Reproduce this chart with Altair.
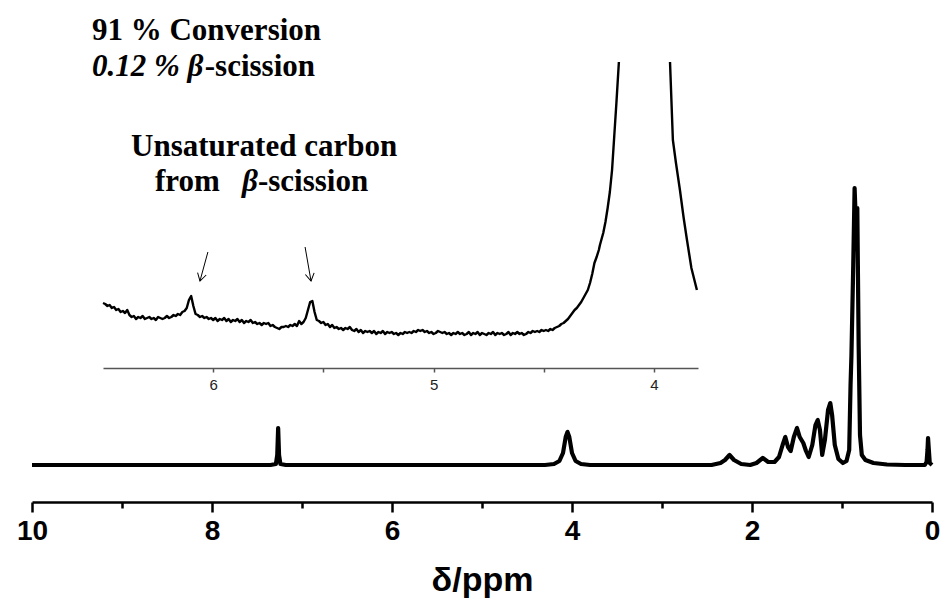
import altair as alt
import pandas as pd

# ---------------- main 1H NMR spectrum (ppm, intensity in px above baseline) ----------------
main_ppm = [10.0, 7.35, 7.29, 7.275, 7.265, 7.255, 7.24, 7.18,
            4.30, 4.20, 4.14, 4.10, 4.07, 4.05, 4.03, 4.00, 3.96, 3.90, 3.80,
            2.45, 2.35, 2.30, 2.25, 2.20, 2.12, 2.02, 1.95, 1.88, 1.82, 1.75, 1.70,
            1.66, 1.63, 1.60, 1.57, 1.535, 1.50, 1.47, 1.43, 1.40, 1.37, 1.33, 1.295,
            1.27, 1.245, 1.22, 1.19, 1.155, 1.13, 1.11, 1.08, 1.04, 0.99, 0.95, 0.92,
            0.905, 0.895, 0.875, 0.86, 0.845, 0.83, 0.815, 0.80, 0.78, 0.74, 0.65,
            0.50, 0.30, 0.08, 0.06, 0.05, 0.044, 0.035, 0.025, 0.0]
main_int = [0, 0, 1, 10, 37, 10, 1, 0,
            0, 1, 4, 12, 28, 33, 28, 12, 4, 1, 0,
            0, 2, 5, 10, 5, 1, 0, 2, 7, 3, 3, 8,
            20, 28, 18, 14, 28, 37, 28, 22, 14, 8, 20, 40,
            45, 35, 10, 25, 55, 62, 50, 20, 6, 2, 4, 15,
            80, 110, 200, 277, 240, 257, 120, 30, 10, 5, 2,
            0.5, 0, 0, 3, 15, 27, 15, 2, 0]

# ---------------- inset (expanded 6.5 - 3.8 ppm) ----------------
inset_ppm_a = [6.50, 6.49, 6.48, 6.47, 6.46, 6.45, 6.44, 6.43, 6.42, 6.41, 6.40, 6.39, 6.38, 6.37,
               6.36, 6.35, 6.34, 6.33, 6.32, 6.31, 6.30, 6.29, 6.28, 6.27, 6.26, 6.25, 6.24, 6.23,
               6.22, 6.21, 6.20, 6.19, 6.18, 6.17, 6.16, 6.15, 6.14, 6.13, 6.12, 6.11, 6.10, 6.09,
               6.08, 6.07, 6.06, 6.05, 6.04, 6.03, 6.02, 6.01, 6.00, 5.99, 5.98, 5.97, 5.96, 5.95,
               5.94, 5.93, 5.92, 5.91, 5.90, 5.89, 5.88, 5.87, 5.86, 5.85, 5.84, 5.83, 5.82, 5.81,
               5.80, 5.79, 5.78, 5.77, 5.76, 5.75, 5.74, 5.73, 5.72, 5.71, 5.70, 5.69, 5.68, 5.67,
               5.66, 5.65, 5.64, 5.63, 5.62, 5.61, 5.60, 5.59, 5.58, 5.57, 5.56, 5.55, 5.54, 5.53,
               5.52, 5.51, 5.50, 5.49, 5.48, 5.47, 5.46, 5.45, 5.44, 5.43, 5.42, 5.41, 5.40, 5.39,
               5.38, 5.37, 5.36, 5.35, 5.34, 5.33, 5.32, 5.31, 5.30, 5.29, 5.28, 5.27, 5.26, 5.25,
               5.24, 5.23, 5.22, 5.21, 5.20, 5.19, 5.18, 5.17, 5.16, 5.15, 5.14, 5.13, 5.12, 5.11,
               5.10, 5.09, 5.08, 5.07, 5.06, 5.05, 5.04, 5.03, 5.02, 5.01, 5.00, 4.99, 4.98, 4.97,
               4.96, 4.95, 4.94, 4.93, 4.92, 4.91, 4.90, 4.89, 4.88, 4.87, 4.86, 4.85, 4.84, 4.83,
               4.82, 4.81, 4.80, 4.79, 4.78, 4.77, 4.76, 4.75, 4.74, 4.73, 4.72, 4.71, 4.70, 4.69,
               4.68, 4.67, 4.66, 4.65, 4.64, 4.63, 4.62, 4.61, 4.60, 4.59, 4.58, 4.57, 4.56, 4.55,
               4.54, 4.53, 4.52, 4.51, 4.50, 4.49, 4.48, 4.47, 4.46, 4.45, 4.44, 4.43, 4.42, 4.41,
               4.40, 4.39, 4.38, 4.37, 4.36, 4.35, 4.34, 4.33, 4.32, 4.31, 4.30, 4.29, 4.28, 4.27,
               4.26, 4.25, 4.245, 4.23, 4.22, 4.21, 4.20, 4.19, 4.18, 4.17, 4.159]
inset_int_a = [65, 64, 62, 63, 60, 61, 58, 59, 56, 57, 55, 58, 53, 51,
               52, 49, 51, 50, 52, 49, 50, 51, 49, 50, 48, 51, 50, 49,
               50, 52, 50, 51, 53, 52, 54, 53, 56, 57, 60, 68, 72, 62,
               54, 53, 51, 52, 50, 51, 49, 50, 48, 50, 47, 49, 48, 50,
               47, 49, 46, 48, 47, 49, 46, 48, 45, 47, 46, 48, 45, 46,
               44, 45, 43, 45, 44, 45, 42, 43, 41, 40, 39, 41, 41, 42,
               41, 43, 42, 44, 42, 47, 44, 46, 50, 58, 66, 67, 56, 48,
               47, 45, 46, 43, 44, 41, 43, 40, 41, 39, 40, 38, 40, 39,
               41, 38, 37, 39, 36, 38, 35, 37, 36, 37, 35, 37, 34, 36,
               35, 37, 34, 36, 35, 36, 34, 35, 33, 35, 34, 36, 35, 36,
               35, 37, 36, 38, 37, 38, 36, 37, 35, 36, 34, 35, 37, 36,
               35, 36, 34, 35, 33, 35, 34, 36, 34, 35, 33, 34, 36, 33,
               35, 34, 36, 33, 35, 34, 33, 35, 34, 36, 33, 35, 34, 35,
               33, 34, 36, 33, 35, 34, 36, 34, 35, 33, 34, 36, 35, 37,
               36, 37, 36, 38, 37, 38, 37, 39, 38, 40, 41, 42, 44, 45,
               47, 49, 52, 55, 58, 60, 63, 66, 70, 74, 78, 85, 94, 105,
               111, 118, 123, 135, 146, 160, 176, 198, 232, 266, 306]
inset_ppm_b = [3.927, 3.914, 3.90, 3.882, 3.865, 3.85, 3.83, 3.805]
inset_int_b = [306, 228, 205, 178, 150, 128, 100, 78]

# annotations (inset coordinates: ppm, intensity)
ann_text = ["91 % Conversion", "-scission", "Unsaturated carbon", "from", "-scission"]
ann_ppm = [6.550, 5.538, 5.769, 6.264, 5.797]
ann_int = [328, 292, 212, 177, 177]
ann_align = ["left", "right", "center", "left", "left"]
ital_text = ["0.12 % \u03b2", "\u03b2"]
ital_ppm = [6.550, 5.797]
ital_int = [292, 177]
ital_align = ["left", "right"]

arrow_ppm0 = [6.024, 5.583]
arrow_int0 = [116, 121]
arrow_ppm1 = [6.060, 5.556]
arrow_int1 = [87, 87]
arrow_angle = [15, 350]

main_ticks = [10, 8, 6, 4, 2, 0]
minor_ticks = [9, 7, 5, 3, 1]
inset_ticks = [6, 5.5, 5, 4.5, 4]

# ---------------- build data ----------------
main_df = pd.DataFrame({"ppm": main_ppm, "I": main_int})
inset_df = pd.concat([
    pd.DataFrame({"ppm": inset_ppm_a, "I": inset_int_a, "seg": "a"}),
    pd.DataFrame({"ppm": inset_ppm_b, "I": inset_int_b, "seg": "b"}),
])
ann_df = pd.DataFrame({"t": ann_text, "ppm": ann_ppm, "I": ann_int, "al": ann_align})
ital_df = pd.DataFrame({"t": ital_text, "ppm": ital_ppm, "I": ital_int, "al": ital_align})
arr_df = pd.DataFrame({"p0": arrow_ppm0, "i0": arrow_int0, "p1": arrow_ppm1,
                       "i1": arrow_int1, "ang": arrow_angle})
minor_df = pd.DataFrame({"v": minor_ticks})

W, H = 900, 490
SANS = "Liberation Sans, Arial, sans-serif"
SERIF = "Liberation Serif, Times New Roman, serif"

main_x = alt.Scale(domain=[10, 0], nice=False, zero=False)
main_y = alt.Scale(domain=[-37, 453], nice=False, zero=False)
inset_x = alt.Scale(domain=[6.5, 3.8], range=[71, 666], nice=False, zero=False)
inset_y = alt.Scale(domain=[0, 306], range=[356, 50], nice=False, zero=False)

main_axis = alt.Axis(orient="bottom", values=main_ticks, format="d", tickSize=10, tickWidth=2.5,
                     tickColor="black", domainColor="black", domainWidth=2.5, grid=False,
                     labelFont=SANS, labelFontWeight="bold", labelFontSize=28, labelColor="black",
                     labelPadding=5, labelFlush=False, title="\u03b4/ppm", titleFont=SANS,
                     titleFontWeight="bold", titleFontSize=34, titleColor="black", titlePadding=18)
minor_axis = alt.Axis(orient="bottom", values=minor_ticks, tickSize=6, tickWidth=2.5,
                      tickColor="black", domain=False, labels=False, grid=False, title=None)
inset_axis = alt.Axis(orient="bottom", values=inset_ticks, tickSize=4, tickWidth=1.5,
                      tickColor="#555555", domainColor="#555555", domainWidth=1.5, grid=False,
                      labelFont=SANS, labelFontSize=15, labelColor="#222222", labelPadding=5,
                      labelExpr="datum.value % 1 == 0 ? format(datum.value, 'd') : ''",
                      offset=-134, title=None)

main_line = alt.Chart(main_df).mark_line(color="black", strokeWidth=4.2, strokeJoin="round").encode(
    x=alt.X("ppm:Q", scale=main_x, axis=main_axis),
    y=alt.Y("I:Q", scale=main_y, axis=None),
    order="ppm:Q",
)
minor_layer = alt.Chart(minor_df).mark_point(opacity=0).encode(
    x=alt.X("v:Q", scale=alt.Scale(domain=[10, 0], nice=False, zero=False), axis=minor_axis),
    y=alt.value(0),
)

inset_line = alt.Chart(inset_df).mark_line(color="black", strokeWidth=2.4, strokeJoin="round").encode(
    x=alt.X("ppm:Q", scale=inset_x, axis=inset_axis),
    y=alt.Y("I:Q", scale=inset_y, axis=None),
    detail="seg:N",
)
arrows = alt.Chart(arr_df).mark_rule(color="black", strokeWidth=1).encode(
    x=alt.X("p0:Q", scale=inset_x, axis=inset_axis), x2="p1:Q",
    y=alt.Y("i0:Q", scale=inset_y, axis=None), y2="i1:Q",
)
heads = alt.Chart(arr_df).mark_point(shape="M -0.6 -1 L 0 0 L 0.6 -1", filled=False,
                                     color="black", strokeWidth=1, size=220, opacity=1).encode(
    x=alt.X("p1:Q", scale=inset_x, axis=inset_axis),
    y=alt.Y("i1:Q", scale=inset_y, axis=None),
    angle=alt.Angle("ang:Q", scale=None),
)


def txt(df, align, italic):
    return alt.Chart(df).mark_text(font=SERIF, fontSize=31, fontWeight="bold",
                                   fontStyle="italic" if italic else "normal",
                                   align=align, baseline="alphabetic", color="black").encode(
        x=alt.X("ppm:Q", scale=inset_x, axis=inset_axis),
        y=alt.Y("I:Q", scale=inset_y, axis=None),
        text="t:N",
    )


layers = []
for al in ["left", "center", "right"]:
    sub = ann_df[ann_df.al == al]
    if len(sub):
        layers.append(txt(sub, al, False))
    sub = ital_df[ital_df.al == al]
    if len(sub):
        layers.append(txt(sub, al, True))

inset = alt.layer(inset_line, arrows, heads, *layers)

chart = alt.layer(main_line, minor_layer, inset).resolve_scale(
    x="independent", y="independent"
).properties(
    width=W, height=H,
    autosize=alt.AutoSizeParams(type="none"),
    padding={"left": 24, "top": 4, "right": 9, "bottom": 98},
).configure_view(stroke=None)

chart.save("out.html", embed_options={"renderer": "svg", "actions": False})
